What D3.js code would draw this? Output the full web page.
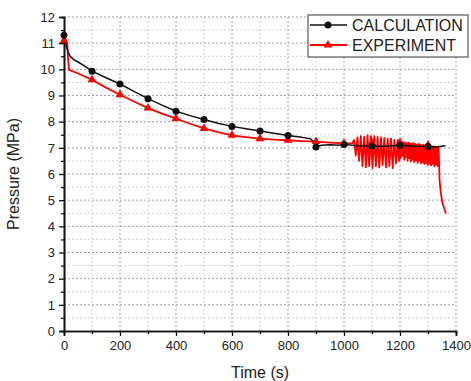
<!DOCTYPE html>
<html><head><meta charset="utf-8">
<script src="https://cdn.jsdelivr.net/npm/d3@7"></script>
<style>body{margin:0;background:#fff}svg{display:block}text{font-family:"Liberation Sans",Arial,sans-serif}</style>
</head><body><svg id="c" width="471" height="381"></svg>
<script>
// ---- data ----
const xTicks = [0,200,400,600,800,1000,1200,1400];
const yTicks = [0,1,2,3,4,5,6,7,8,9,10,11,12];
const seriesNames = ["CALCULATION","EXPERIMENT"];

const calcT = [0,3,8,15,22,35,50,70,100,150,200,250,300,350,400,450,500,550,600,650,700,750,800,850,880,890,900,920,950,980,1000,1050,1100,1150,1200,1250,1300,1330,1362];
const calcP = [11.4,11.2,10.9,10.65,10.5,10.37,10.28,10.15,9.93,9.68,9.44,9.16,8.88,8.63,8.40,8.23,8.08,7.94,7.82,7.73,7.64,7.56,7.47,7.40,7.35,7.25,7.05,7.10,7.12,7.10,7.13,7.08,7.06,7.06,7.10,7.06,7.05,7.03,7.08];
const calcMarkT = [0,100,200,300,400,500,600,700,800,900,1000,1100,1200,1300];
const calcMarkP = [11.3,9.93,9.44,8.88,8.40,8.08,7.82,7.64,7.47,7.03,7.13,7.06,7.10,7.05];

const expT = [0,5,12,15,18,25,50,100,150,200,250,300,350,400,450,500,550,600,650,700,750,800,850,900,950,1000,1030,
 1036,1042,1048,1054,1060,1066,1072,1078,1084,1090,1096,1102,1108,1114,1120,1126,1132,1138,1144,1150,1156,1162,1168,1174,1180,1186,1192,1197,
 1200,1203,1206,1209,1212,1215,1218,1221,1224,1227,1230,1233,1236,1239,1242,1245,1248,1251,1254,1257,1260,1263,1266,1269,1272,1275,1278,1281,1284,1287,1290,1293,1296,1299,1302,1305,1308,1311,1314,1317,1320,1323,1326,1329,1332,1335,1338,1340,
 1341,1346,1352,1364];
const expP = [11.2,11.15,10.95,10.3,9.98,9.95,9.84,9.6,9.30,9.03,8.77,8.52,8.31,8.12,7.92,7.74,7.6,7.48,7.41,7.35,7.31,7.29,7.26,7.24,7.2,7.17,7.18,
 7.3,6.7,7.4,6.5,7.45,6.3,7.42,6.25,7.48,6.3,7.45,6.22,7.45,6.3,7.42,6.25,7.4,6.35,7.38,6.25,7.35,6.3,7.35,6.22,7.3,6.4,7.3,6.5,
 7.25,6.6,7.2,6.7,7.22,6.55,7.2,6.65,7.18,6.5,7.2,6.6,7.17,6.48,7.15,6.55,7.18,6.45,7.15,6.52,7.12,6.42,7.15,6.5,7.12,6.4,7.1,6.45,7.12,6.38,7.1,6.42,7.08,6.35,7.1,6.4,7.08,6.33,7.06,6.38,7.05,6.3,7.05,6.35,7.02,6.3,7.0,6.3,
 5.8,5.25,4.87,4.49];
const expMarkT = [0,100,200,300,400,500,600,700,800,900,1000,1100,1200,1300];
const expMarkP = [11.1,9.6,9.03,8.52,8.12,7.74,7.48,7.35,7.29,7.24,7.17,7.2,7.2,7.1];

// ---- layout ----
const svg = d3.select("#c");
const L=64,R=456,T=17,B=331;
const x = d3.scaleLinear().domain([0,1400]).range([L,R]);
const y = d3.scaleLinear().domain([0,12]).range([B,T]);

// grid
const g = svg.append("g");
d3.range(100,1401,100).forEach(v=>{
  const major = v%200===0;
  g.append("line").attr("x1",x(v)).attr("x2",x(v)).attr("y1",y(0)).attr("y2",y(12))
   .attr("stroke",major?"#a0a0a0":"#cccccc").attr("stroke-width",1).attr("stroke-dasharray","2,2");
});
d3.range(0.5,12.01,0.5).forEach(v=>{
  const major = Math.abs(v-Math.round(v))<1e-6;
  g.append("line").attr("x1",x(0)).attr("x2",x(1400)).attr("y1",y(v)).attr("y2",y(v))
   .attr("stroke",major?"#a0a0a0":"#cccccc").attr("stroke-width",1).attr("stroke-dasharray","2,2");
});

// axes
const xAxis = d3.axisBottom(x).tickValues(xTicks).tickSize(5).tickPadding(5).tickFormat(d3.format("d"));
const yAxis = d3.axisLeft(y).tickValues(yTicks).tickSize(5).tickPadding(4).tickFormat(d3.format("d"));
const xMinor = d3.axisBottom(x).tickValues(d3.range(100,1400,200)).tickSize(3).tickFormat("");
const yMinor = d3.axisLeft(y).tickValues(d3.range(0.5,12,1)).tickSize(3).tickFormat("");
function styleAxis(sel){
  sel.select(".domain").attr("stroke","#111").attr("stroke-width",1.6);
  sel.selectAll(".tick line").attr("stroke","#111").attr("stroke-width",1.3);
  sel.selectAll("text").attr("fill","#222").style("font-size","13px").style("font-family","'Liberation Sans',Arial,sans-serif");
}
svg.append("g").attr("transform",`translate(0,${B})`).call(xMinor).call(styleAxis);
svg.append("g").attr("transform",`translate(${L},0)`).call(yMinor).call(styleAxis);
svg.append("g").attr("transform",`translate(0,${B})`).call(xAxis).call(styleAxis);
svg.append("g").attr("transform",`translate(${L},0)`).call(yAxis).call(styleAxis);

// titles
svg.append("text").attr("x",(L+R)/2).attr("y",378).attr("text-anchor","middle")
  .style("font-size","16px").attr("fill","#222").text("Time (s)");
svg.append("text").attr("transform",`translate(19,${(T+B)/2}) rotate(-90)`).attr("text-anchor","middle")
  .style("font-size","16px").attr("fill","#222").text("Pressure (MPa)");

// lines
const line = d3.line().x(d=>x(d[0])).y(d=>y(d[1]));
const expData = expT.map((t,i)=>[t,expP[i]]);
const calcData = calcT.map((t,i)=>[t,calcP[i]]);
svg.append("path").datum(expData).attr("d",line).attr("fill","none").attr("stroke","#ff0000").attr("stroke-width",1.8).attr("stroke-linejoin","round");
svg.append("path").datum(calcData).attr("d",line).attr("fill","none").attr("stroke","#111").attr("stroke-width",1.5).attr("stroke-linejoin","round");

const tri = d3.symbol().type(d3.symbolTriangle).size(34);
svg.selectAll(".em").data(expMarkT).join("path").attr("class","em")
  .attr("transform",(d,i)=>`translate(${x(d)},${y(expMarkP[i])})`).attr("d",tri).attr("fill","#ff0000");
svg.selectAll(".cm").data(calcMarkT).join("circle").attr("class","cm")
  .attr("cx",d=>x(d)).attr("cy",(d,i)=>y(calcMarkP[i])).attr("r",3.5).attr("fill","#111");

// legend
const lg = svg.append("g");
lg.append("rect").attr("x",308).attr("y",15).attr("width",160).attr("height",42).attr("fill","#fff").attr("stroke","#555").attr("stroke-width",1.2);
const colors = ["#111","#ff0000"];
seriesNames.forEach((n,i)=>{
  const yy = 25 + i*20;
  lg.append("line").attr("x1",310).attr("x2",347).attr("y1",yy).attr("y2",yy).attr("stroke",colors[i]).attr("stroke-width",i?1.8:1.5);
  if(i===0) lg.append("circle").attr("cx",328).attr("cy",yy).attr("r",3.5).attr("fill",colors[i]);
  else lg.append("path").attr("transform",`translate(328,${yy})`).attr("d",tri).attr("fill",colors[i]);
  lg.append("text").attr("x",352).attr("y",yy+6).style("font-size","16px").attr("fill","#222").text(n);
});
</script></body></html>
